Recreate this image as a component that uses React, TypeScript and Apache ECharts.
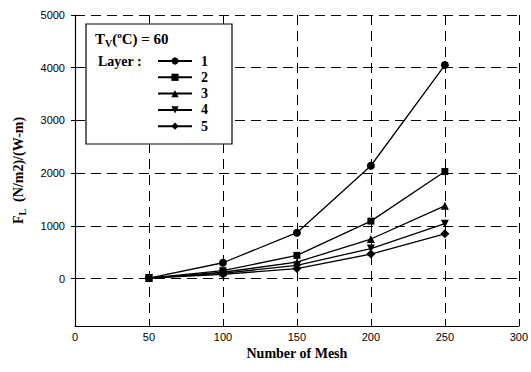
import React, { useEffect, useRef } from "react";
import * as echarts from "echarts";

const meshes = [50, 100, 150, 200, 250];
const layer1 = [10, 300, 870, 2140, 4050];
const layer2 = [10, 150, 440, 1090, 2030];
const layer3 = [10, 120, 310, 750, 1380];
const layer4 = [10, 100, 250, 570, 1040];
const layer5 = [10, 80, 190, 465, 850];
const layerNames = ["1", "2", "3", "4", "5"];
const yTicks = [0, 1000, 2000, 3000, 4000, 5000];

const symbols = ["circle", "rect", "triangle", "triangle", "diamond"];
const rotations = [0, 0, 0, 180, 0];
const sizes = [8, 7, 8, 8, 9];

export default function App() {
  const ref = useRef<HTMLDivElement>(null);
  useEffect(() => {
    if (!ref.current) return;
    const chart = echarts.init(ref.current, undefined, { renderer: "svg" });
    const all = [layer1, layer2, layer3, layer4, layer5];
    const series = all.map((vals, i) => ({
      name: layerNames[i],
      type: "line",
      data: meshes.map((m, j) => [m, vals[j]]),
      symbol: symbols[i],
      symbolRotate: rotations[i],
      symbolSize: sizes[i],
      lineStyle: { color: "#000", width: 1.3 },
      itemStyle: { color: "#000" },
      z: 5,
    }));
    chart.setOption({
      animation: false,
      backgroundColor: "#fff",
      grid: { left: 75, right: 10, top: 15, bottom: 46, show: false },
      xAxis: {
        type: "value",
        min: 0,
        max: 300,
        interval: 50,
        name: "Number of Mesh",
        nameLocation: "middle",
        nameGap: 18,
        nameTextStyle: { fontFamily: "Liberation Serif", fontWeight: "bold", fontSize: 14, color: "#000" },
        axisLine: { show: true, onZero: false, lineStyle: { color: "#000", width: 1.2 } },
        axisTick: { show: true, inside: true, length: 4, lineStyle: { color: "#000" } },
        axisLabel: { fontFamily: "Liberation Sans", fontSize: 11, color: "#000", margin: 5 },
        splitLine: { show: true, lineStyle: { color: "#000", type: [10, 6], width: 1 } },
      },
      yAxis: {
        type: "value",
        min: -900,
        max: 5000,
        name: "{b|F}{s|L}{b|  (N/m2)/(W-m)}",
        nameLocation: "middle",
        nameGap: 48,
        nameTextStyle: {
          fontFamily: "Liberation Serif",
          fontWeight: "bold",
          fontSize: 14,
          color: "#000",
          rich: {
            b: { fontFamily: "Liberation Serif", fontWeight: "bold", fontSize: 14, color: "#000" },
            s: { fontFamily: "Liberation Serif", fontWeight: "bold", fontSize: 10, color: "#000", padding: [8, 0, 0, 0] },
          },
        },
        axisLine: { show: true, onZero: false, lineStyle: { color: "#000", width: 1.2 } },
        axisTick: { show: true, length: 4, customValues: yTicks, lineStyle: { color: "#000" } },
        axisLabel: {
          customValues: yTicks,
          formatter: (v: number) => String(v),
          fontFamily: "Liberation Sans",
          fontSize: 11,
          color: "#000",
          margin: 10,
        },
        splitLine: { show: true, lineStyle: { color: "#000", type: [10, 6], width: 1 } },
      },
      legend: {
        data: layerNames,
        orient: "vertical",
        left: 157,
        top: 54,
        padding: 0,
        itemWidth: 34,
        itemHeight: 9,
        itemGap: 2.3,
        textStyle: { fontFamily: "Liberation Serif", fontWeight: "bold", fontSize: 14, color: "#000", padding: [0, 0, 0, 4] },
        selectedMode: false,
        z: 20,
      },
      graphic: [
        {
          type: "rect",
          shape: { x: 86, y: 24, width: 146, height: 120 },
          style: { fill: "#fff", stroke: "#000", lineWidth: 1.2 },
          z: 10,
        },
        {
          type: "text",
          x: 95,
          y: 30,
          z: 11,
          style: {
            text: "{b|T}{s|V}{b|(}{sp|o}{b|C) = 60}",
            rich: {
              b: { fontFamily: "Liberation Serif", fontWeight: "bold", fontSize: 15, fill: "#000" },
              s: { fontFamily: "Liberation Serif", fontWeight: "bold", fontSize: 10, fill: "#000", padding: [8, 0, 0, 0] },
              sp: { fontFamily: "Liberation Serif", fontWeight: "bold", fontSize: 9, fill: "#000", padding: [0, 0, 8, 0] },
            },
          },
        },
        {
          type: "text",
          x: 98,
          y: 54,
          z: 11,
          style: { text: "Layer :", fontFamily: "Liberation Serif", fontWeight: "bold", fontSize: 14, fill: "#000" },
        },
      ],
      series,
    });
    return () => chart.dispose();
  }, []);
  return <div ref={ref} style={{ width: 531, height: 372, position: "absolute", left: 0, top: 0 }} />;
}
